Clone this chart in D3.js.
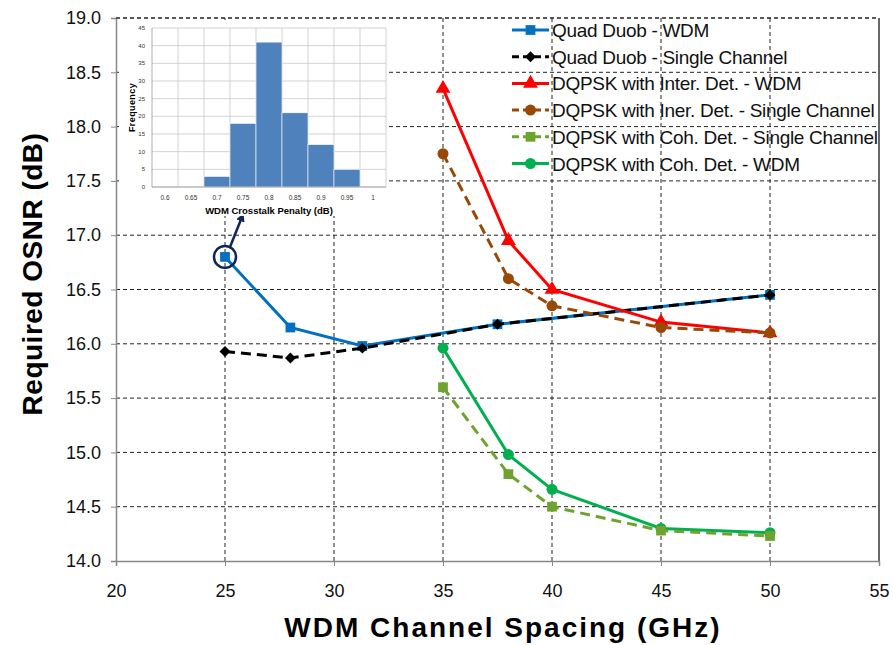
<!DOCTYPE html>
<html>
<head>
<meta charset="utf-8">
<script src="https://cdn.jsdelivr.net/npm/d3@7"></script>
<style>
  body { margin: 0; background: #fff; }
  text { font-family: "Liberation Sans", Arial, sans-serif; }
</style>
</head>
<body>
<div id="chart"></div>
<script>
// data
var quadX = [25, 28, 31.3, 37.5, 50];
var quadWdm = [16.8, 16.15, 15.98, 16.18, 16.45];
var quadSingle = [15.93, 15.87, 15.96, 16.18, 16.45];
var dqX = [35, 38, 40, 45, 50];
var interWdm = [18.35, 16.95, 16.5, 16.2, 16.1];
var interSingle = [17.75, 16.6, 16.35, 16.15, 16.1];
var cohSingle = [15.6, 14.8, 14.5, 14.28, 14.23];
var cohWdm = [15.96, 14.98, 14.66, 14.3, 14.26];

var xTicks = [20, 25, 30, 35, 40, 45, 50, 55];
var yTicks = [14, 14.5, 15, 15.5, 16, 16.5, 17, 17.5, 18, 18.5, 19];

// inset histogram
var histBins = ["0.6", "0.65", "0.7", "0.75", "0.8", "0.85", "0.9", "0.95", "1"];
var histFreq = [0, 0, 3, 18, 41, 21, 12, 5, 0];
var histYTicks = [0, 5, 10, 15, 20, 25, 30, 35, 40, 45];

var series = [
  { name: "Quad Duob - WDM", x: quadX, y: quadWdm, color: "#0070c0", dash: null, marker: "square" },
  { name: "Quad Duob - Single Channel", x: quadX, y: quadSingle, color: "#000000", dash: "10,6", marker: "diamond" },
  { name: "DQPSK with Inter. Det. - WDM", x: dqX, y: interWdm, color: "#ff0000", dash: null, marker: "triangle" },
  { name: "DQPSK with Iner. Det. - Single Channel", x: dqX, y: interSingle, color: "#984807", dash: "10,6", marker: "circle" },
  { name: "DQPSK with Coh. Det. - Single Channel", x: dqX, y: cohSingle, color: "#6ea32f", dash: "10,6", marker: "square" },
  { name: "DQPSK with Coh. Det. - WDM", x: dqX, y: cohWdm, color: "#00b050", dash: null, marker: "circle" }
];

var svgWidth = 893;
var svgHeight = 645;

var svg = d3.select("#chart")
    .append("svg")
    .attr("width", svgWidth)
    .attr("height", svgHeight);

var margin = { top: 18, right: 14, bottom: 84, left: 116 };
var width = svgWidth - margin.left - margin.right;
var height = svgHeight - margin.top - margin.bottom;

var g = svg.append("g")
    .attr("transform", `translate(${margin.left}, ${margin.top})`);

var x = d3.scaleLinear().domain([20, 55]).range([0, width]);
var y = d3.scaleLinear().domain([14, 19]).range([height, 0]);

// grid
g.selectAll(".vgrid")
    .data(xTicks.slice(1, -1))
    .enter()
    .append("line")
    .attr("x1", d => x(d)).attr("x2", d => x(d))
    .attr("y1", 0).attr("y2", height)
    .attr("stroke", "#222").attr("stroke-width", 1)
    .attr("stroke-dasharray", "4,3");

g.selectAll(".hgrid")
    .data(yTicks.slice(1))
    .enter()
    .append("line")
    .attr("x1", 0).attr("x2", width)
    .attr("y1", d => y(d)).attr("y2", d => y(d))
    .attr("stroke", "#222").attr("stroke-width", 1)
    .attr("stroke-dasharray", "4,3");

// right border
g.append("line")
    .attr("x1", width).attr("x2", width)
    .attr("y1", 0).attr("y2", height)
    .attr("stroke", "#000").attr("stroke-width", 1.2);

// axes
var xAxis = g.append("g")
    .attr("transform", `translate(0, ${height})`)
    .call(d3.axisBottom(x).tickValues(xTicks).tickSize(5).tickPadding(18).tickFormat(d3.format("d")));
var yAxis = g.append("g")
    .call(d3.axisLeft(y).tickValues(yTicks).tickSize(5).tickPadding(10).tickFormat(d3.format(".1f")));

[xAxis, yAxis].forEach(function (ax) {
    ax.select(".domain").attr("stroke", "#888").attr("stroke-width", 1.5);
    ax.selectAll(".tick line").attr("stroke", "#888");
    ax.selectAll("text").attr("font-size", "18px").attr("fill", "#111")
        .attr("font-family", "Liberation Sans, Arial, sans-serif");
});

// axis titles
svg.append("text")
    .attr("transform", "translate(42, 274) rotate(-90)")
    .attr("text-anchor", "middle")
    .attr("font-size", "28px")
    .attr("font-weight", "bold")
    .attr("letter-spacing", "0.5px")
    .text("Required OSNR (dB)");

svg.append("text")
    .attr("x", 503)
    .attr("y", 637)
    .attr("text-anchor", "middle")
    .attr("font-size", "28px")
    .attr("font-weight", "bold")
    .attr("letter-spacing", "2px")
    .text("WDM Channel Spacing (GHz)");

// marker drawing
function drawMarker(sel, type, color) {
    if (type === "circle") {
        sel.append("circle").attr("r", 5.5).attr("fill", color);
    } else if (type === "diamond") {
        sel.append("path").attr("d", d3.symbol().type(d3.symbolSquare).size(60))
            .attr("transform", "rotate(45)").attr("fill", color);
    } else {
        var sym = type === "square" ? d3.symbolSquare : d3.symbolTriangle;
        sel.append("path").attr("d", d3.symbol().type(sym).size(95)).attr("fill", color);
    }
}

var line = d3.line()
    .x(d => x(d[0]))
    .y(d => y(d[1]));

// draw order: single channel dashed lines on top of the WDM ones
var drawOrder = [0, 1, 2, 3, 5, 4];
drawOrder.forEach(function (i) {
    var s = series[i];
    var pts = s.x.map((v, j) => [v, s.y[j]]);
    g.append("path")
        .datum(pts)
        .attr("d", line)
        .attr("fill", "none")
        .attr("stroke", s.color)
        .attr("stroke-width", 3)
        .attr("stroke-dasharray", s.dash);
    g.selectAll(null)
        .data(pts)
        .enter()
        .append("g")
        .attr("transform", d => `translate(${x(d[0])}, ${y(d[1])})`)
        .each(function () { drawMarker(d3.select(this), s.marker, s.color); });
});

// annotation circle and arrow
svg.append("defs").append("marker")
    .attr("id", "arrow")
    .attr("viewBox", "0 0 10 10")
    .attr("refX", 5).attr("refY", 5)
    .attr("markerWidth", 3.5).attr("markerHeight", 3.5)
    .attr("orient", "auto")
    .append("path")
    .attr("d", "M0,0 L10,5 L0,10 z")
    .attr("fill", "#10265a");

g.append("circle")
    .attr("cx", x(quadX[0])).attr("cy", y(quadWdm[0]))
    .attr("r", 11)
    .attr("fill", "none")
    .attr("stroke", "#10265a")
    .attr("stroke-width", 2.5);

g.append("line")
    .attr("x1", x(quadX[0]) + 5).attr("y1", y(quadWdm[0]) - 10)
    .attr("x2", x(quadX[0]) + 17).attr("y2", y(quadWdm[0]) - 40)
    .attr("stroke", "#10265a")
    .attr("stroke-width", 2.5)
    .attr("marker-end", "url(#arrow)");

// inset histogram
var inset = svg.append("g").attr("transform", "translate(119, 20)");
inset.append("rect")
    .attr("width", 270).attr("height", 196)
    .attr("fill", "#fff");

var ix = d3.scaleBand().domain(histBins).range([33, 267]).padding(0);
var iy = d3.scaleLinear().domain([0, 45]).range([167, 8]);

inset.selectAll(".ihg")
    .data(histYTicks)
    .enter()
    .append("line")
    .attr("x1", 33).attr("x2", 267)
    .attr("y1", d => iy(d)).attr("y2", d => iy(d))
    .attr("stroke", "#c8c8c8").attr("stroke-width", 0.8);

inset.selectAll(".ivg")
    .data(histBins)
    .enter()
    .append("line")
    .attr("x1", d => ix(d) + ix.bandwidth()).attr("x2", d => ix(d) + ix.bandwidth())
    .attr("y1", iy(45)).attr("y2", iy(0))
    .attr("stroke", "#c8c8c8").attr("stroke-width", 0.8);

inset.selectAll(".bar")
    .data(histBins)
    .enter()
    .append("rect")
    .attr("x", d => ix(d))
    .attr("width", ix.bandwidth())
    .attr("y", (d, i) => iy(histFreq[i]))
    .attr("height", (d, i) => iy(0) - iy(histFreq[i]))
    .attr("fill", "#4f81bd")
    .attr("stroke", "#fff")
    .attr("stroke-width", 0.6);

inset.append("line")
    .attr("x1", 33).attr("x2", 33).attr("y1", iy(45)).attr("y2", iy(0))
    .attr("stroke", "#999").attr("stroke-width", 0.8);
inset.append("line")
    .attr("x1", 33).attr("x2", 267).attr("y1", iy(0)).attr("y2", iy(0))
    .attr("stroke", "#999").attr("stroke-width", 0.8);

inset.selectAll(".iyl")
    .data(histYTicks)
    .enter()
    .append("text")
    .attr("x", 26).attr("y", d => iy(d) + 2)
    .attr("text-anchor", "end")
    .attr("font-size", "6px")
    .attr("fill", "#333")
    .text(d => d);

inset.selectAll(".ixl")
    .data(histBins)
    .enter()
    .append("text")
    .attr("x", d => ix(d) + ix.bandwidth() / 2).attr("y", 180)
    .attr("text-anchor", "middle")
    .attr("font-size", "6.5px")
    .attr("fill", "#333")
    .text(d => d);

inset.append("text")
    .attr("transform", `translate(16, ${iy(22.5)}) rotate(-90)`)
    .attr("text-anchor", "middle")
    .attr("font-size", "9px")
    .attr("font-weight", "bold")
    .attr("letter-spacing", "0.4px")
    .text("Frequency");

inset.append("text")
    .attr("x", 150).attr("y", 194)
    .attr("text-anchor", "middle")
    .attr("font-size", "9.5px")
    .attr("font-weight", "bold")
    .text("WDM Crosstalk Penalty (dB)");

// top border (dashed, drawn over the inset like the reference)
g.append("line")
    .attr("x1", 0).attr("x2", width)
    .attr("y1", 0).attr("y2", 0)
    .attr("stroke", "#222").attr("stroke-width", 1.2)
    .attr("stroke-dasharray", "4,3");

// legend
var legend = svg.append("g").attr("transform", "translate(512, 30)");
series.forEach(function (s, i) {
    var row = legend.append("g").attr("transform", `translate(0, ${i * 26.7})`);
    row.append("line")
        .attr("x1", 0).attr("x2", 37)
        .attr("stroke", s.color)
        .attr("stroke-width", 3)
        .attr("stroke-dasharray", s.dash ? "7,4" : null);
    var m = row.append("g").attr("transform", "translate(18.5, 0)");
    drawMarker(m, s.marker, s.color);
    row.append("text")
        .attr("x", 40).attr("y", 7)
        .attr("font-size", "19px")
        .attr("letter-spacing", "-0.3px")
        .attr("fill", "#111")
        .text(s.name);
});
</script>
</body>
</html>
